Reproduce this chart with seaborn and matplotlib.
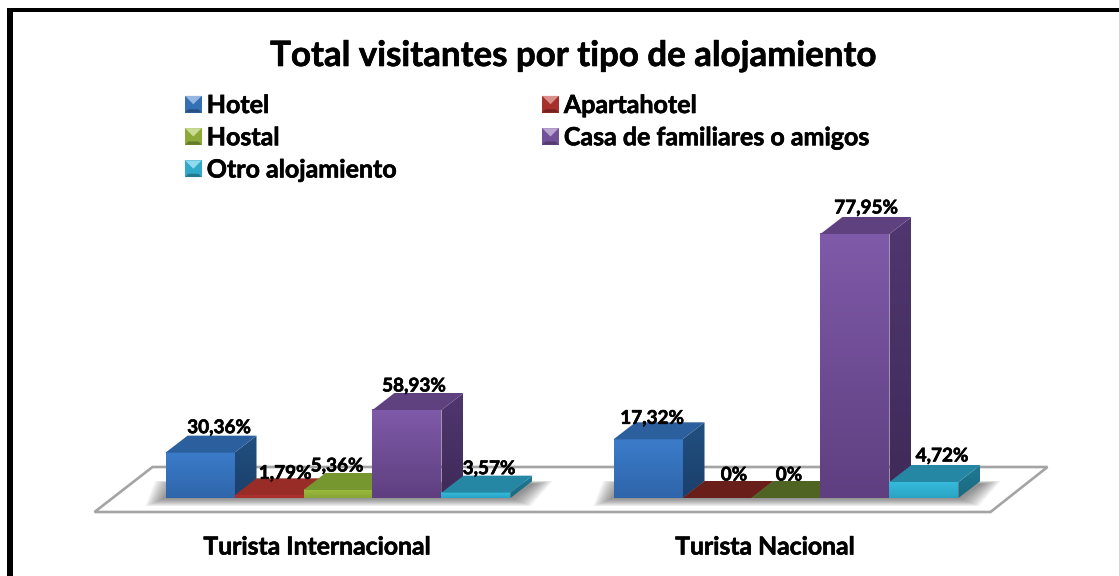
import numpy as np
import pandas as pd
import seaborn as sns
import matplotlib
matplotlib.use('Agg')
import matplotlib.pyplot as plt
import matplotlib.patheffects as pe
from matplotlib.colors import to_rgb
from matplotlib.legend_handler import HandlerBase
from matplotlib.patches import Patch, Polygon, Rectangle
from matplotlib.transforms import ScaledTranslation

# Data: bar heights are visitor counts, the labels show the percentages
groups = ['Turista Internacional', 'Turista Nacional']
tipos = ['Hotel', 'Apartahotel', 'Hostal', 'Casa de familiares o amigos', 'Otro alojamiento']
internacional = [17, 1, 3, 33, 2]
nacional = [22, 0, 0, 99, 6]
pct_internacional = ['30,36%', '1,79%', '5,36%', '58,93%', '3,57%']
pct_nacional = ['17,32%', '0%', '0%', '77,95%', '4,72%']

# Style: (front top, front bottom, top face, side top, side bottom, top face when empty)
colors = {
    'Hotel': ('#3b7cca', '#2f65aa', '#2b5f9e', '#21507f', '#1b3f6c', '#2b5f9e'),
    'Apartahotel': ('#b8352f', '#a52c27', '#9a2c27', '#7c231f', '#6a1e1a', '#6a1e1a'),
    'Hostal': ('#9dbd3e', '#86a534', '#76962f', '#5f7a26', '#4f6423', '#4f6323'),
    'Casa de familiares o amigos': ('#7f5aa9', '#5f3f80', '#5f4180', '#50376f', '#3f2a58', '#5f4180'),
    'Otro alojamiento': ('#36bcde', '#2aa3c3', '#2587a3', '#1f7a94', '#1b6a80', '#2587a3'),
}
label_nudge = [(19, 25), (16, 22), (-1, 24), (7, 24), (13, 24),
               (4, 21), (17, 23), (3, 23), (11, 26), (18, 26)]

W, H = 1119, 576
PX_X = 448.0   # pixels per category
PX_Y = 2.667   # pixels per visitor
DX, DY = 22 / PX_X, 17 / PX_Y   # 3D depth of the bars
HEAVY = [pe.Stroke(linewidth=0.45, foreground='black'), pe.Normal()]

sns.set_theme(style='white')
plt.rcParams['font.family'] = ['Lato', 'DejaVu Sans']
plt.rcParams['font.weight'] = 'bold'
plt.rcParams['text.color'] = 'black'

df = pd.DataFrame({
    'grupo': np.repeat(groups, len(tipos)),
    'tipo': tipos * 2,
    'visitantes': internacional + nacional,
})

fig = plt.figure(figsize=(W / 100, H / 100), dpi=100, facecolor='white')
ax = fig.add_axes([114 / W, (H - 498) / H, 896 / W, 110 * PX_Y / H])
sns.barplot(data=df, x='grupo', y='visitantes', hue='tipo', hue_order=tipos, order=groups,
            palette={t: colors[t][0] for t in tipos}, width=0.77, gap=0, saturation=1,
            ax=ax)


def vgrad(top, bottom):
    return np.linspace(to_rgb(top), to_rgb(bottom), 64).reshape(64, 1, 3)


fx, fy = 1 / PX_X, 1 / PX_Y

# one floor under both groups
first = ax.containers[0][0].get_x()
last = ax.containers[-1][-1].get_x() + ax.containers[-1][-1].get_width()
floor = [(first - 71 * fx, -14 * fy), (last + 32 * fx, -14 * fy),
         (last + 89 * fx, 31 * fy), (first - 13 * fx, 31 * fy)]
ax.add_patch(Polygon(floor, closed=True, fc='white', ec='#a4a4a4', lw=1.9,
                     zorder=1, clip_on=False))

# soft shadow, one per group
for j in range(len(groups)):
    x0 = ax.containers[0][j].get_x()
    x1 = ax.containers[-1][j].get_x() + ax.containers[-1][j].get_width()
    for k in range(10, 0, -1):
        shadow = [(x0 - k * 2 * fx, -(k * 0.8) * fy), (x1 + (k * 2) * fx, -(k * 0.8) * fy),
                  (x1 + (22 + k * 2) * fx, (14 + k * 0.3) * fy), (x0 + (10 - k * 2) * fx, (14 + k * 0.3) * fy)]
        ax.add_patch(Polygon(shadow, closed=True, fc='#444444', ec='none', alpha=0.08,
                             zorder=1.5, clip_on=False))

# hand made 3D bars on top of the seaborn patches, left to right
z = 3
for j in range(len(groups)):
    for i, t in enumerate(tipos):
        bar = ax.containers[i][j]
        x, w, h = bar.get_x(), bar.get_width(), bar.get_height()
        c = colors[t]
        bar.set_zorder(z)
        bar.set_edgecolor('none')
        bar.set_facecolor(c[1])
        if h == 0:
            bar.set_visible(False)
        else:
            ax.imshow(vgrad(c[0], c[1]), extent=[x, x + w, 0, h], aspect='auto',
                      interpolation='bilinear', zorder=z + 0.1)
            side = Polygon([(x + w, 0), (x + w + DX, DY), (x + w + DX, h + DY), (x + w, h)],
                           closed=True, transform=ax.transData)
            im = ax.imshow(vgrad(c[3], c[4]), extent=[x + w, x + w + DX, 0, h + DY], aspect='auto',
                           interpolation='bilinear', zorder=z + 0.2, clip_on=True)
            im.set_clip_path(side)
        top_col = c[5] if h == 0 else c[2]
        ax.add_patch(Polygon([(x, h), (x + w, h), (x + w + DX, h + DY), (x + DX, h + DY)],
                             closed=True, fc=top_col, ec='none', zorder=z + 0.3))
        z += 1

ax.set_xlim(-0.5, 1.5)
ax.set_ylim(0, 110)

# data labels
pcts = pct_internacional + pct_nacional
n = 0
for j in range(len(groups)):
    for i in range(len(tipos)):
        bar = ax.containers[i][j]
        ax.annotate(pcts[n], xy=(bar.get_x() + bar.get_width() / 2, bar.get_height()),
                    xytext=label_nudge[n], textcoords='offset pixels', ha='center', va='center',
                    fontsize=13.6, fontweight='bold', color='black', zorder=100,
                    annotation_clip=False, path_effects=HEAVY)
        n += 1

sns.despine(ax=ax, left=True, bottom=True)
ax.set_xlabel('')
ax.set_ylabel('')
ax.set_yticks([])
ax.tick_params(axis='x', length=0, pad=27)
for lab in ax.get_xticklabels():
    lab.set_fontsize(17.8)
    lab.set_fontweight('bold')
    lab.set_color('black')
    lab.set_path_effects(HEAVY)
    lab.set_transform(lab.get_transform() + ScaledTranslation(-21 / 100, 0, fig.dpi_scale_trans))
ax.patch.set_alpha(0)


# legend keys with the little bevel
class BevelHandler(HandlerBase):
    def create_artists(self, legend, orig_handle, xdescent, ydescent, width, height, fontsize, trans):
        rgb = np.array(orig_handle.get_facecolor()[:3])
        s = height
        x0, y0 = -xdescent, -ydescent
        cx, cy = x0 + s / 2, y0 + s / 2
        d = s * 0.2
        arts = [
            Rectangle((x0, y0), s, s, fc=rgb * 0.9, ec='none'),
            Polygon([(x0, y0 + s), (x0 + s, y0 + s), (cx, cy)], closed=True, fc=rgb * 0.55 + 0.45, ec='none'),
            Polygon([(x0, y0), (x0 + s, y0), (x0 + s - d, y0 + d), (x0 + d, y0 + d)], closed=True, fc=rgb * 0.65, ec='none'),
        ]
        for a in arts:
            a.set_transform(trans)
        return arts


handles, labels = ax.get_legend_handles_labels()
order = [0, 2, 4, 1, 3]   # matplotlib fills by column, the chart reads by row
leg = ax.legend([handles[k] for k in order], [labels[k] for k in order], ncol=2,
                loc='upper left', bbox_to_anchor=(185 / W, 1 - 94 / H), bbox_transform=fig.transFigure,
                frameon=False, prop={'size': 18, 'weight': 'bold'}, borderpad=0, borderaxespad=0,
                handlelength=0.65, handleheight=0.65, handletextpad=0.22, labelspacing=0.37,
                columnspacing=5.8, handler_map={Patch: BevelHandler()})
leg.set_zorder(200)
for txt in leg.get_texts():
    txt.set_color('black')
    txt.set_path_effects(HEAVY)

fig.text(573 / W, 1 - 56 / H, 'Total visitantes por tipo de alojamiento', ha='center', va='center',
         fontsize=25.1, fontweight='bold', color='black', path_effects=HEAVY)

# thick black frame, only left and top reach the picture
fig.add_artist(Rectangle((7 / W, 0), 6 / W, 1 - 8 / H, transform=fig.transFigure, fc='black', ec='none'))
fig.add_artist(Rectangle((7 / W, 1 - 12 / H), 1 - 7 / W, 4 / H, transform=fig.transFigure, fc='black', ec='none'))

fig.savefig('out.png', dpi=100)
